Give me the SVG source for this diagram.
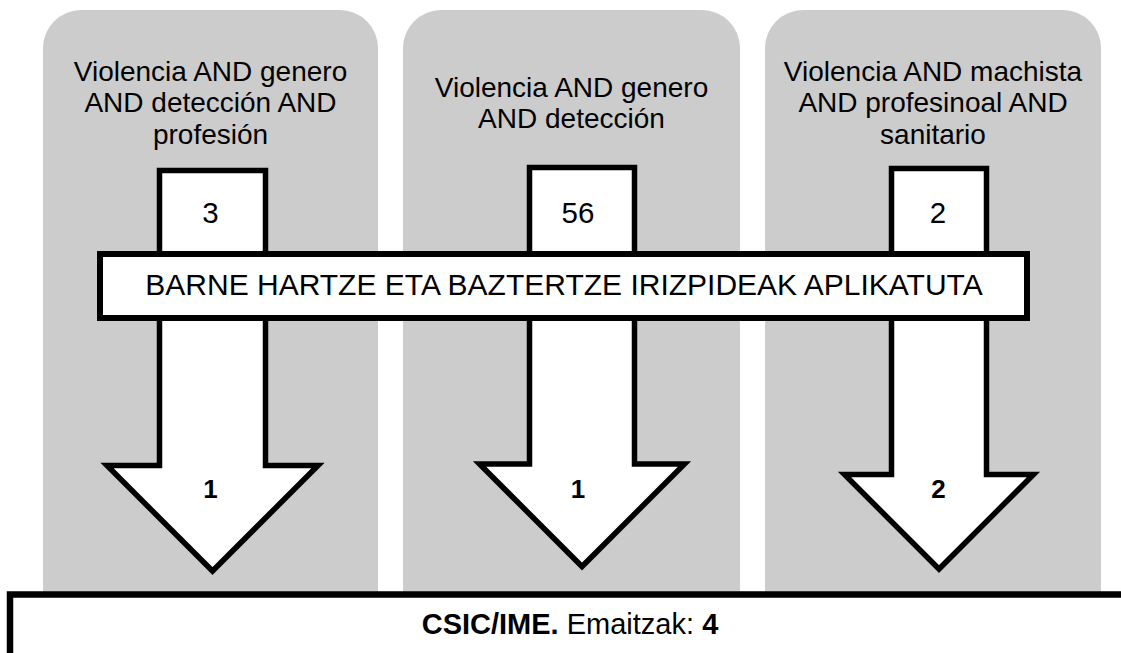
<svg xmlns="http://www.w3.org/2000/svg" width="1121" height="653" viewBox="0 0 1121 653">
<style>
  .col { fill: #cccccc; stroke: none; }
  .arrow { fill: #ffffff; stroke: #000000; stroke-width: 5.5; stroke-linejoin: miter; stroke-miterlimit: 10; }
  .box { fill: #ffffff; stroke: #000000; stroke-width: 6; }
  .t { font-family: "Liberation Sans", Arial, sans-serif; font-size: 29.5px; fill: #000000; text-anchor: middle; }
  .h { font-size: 28px; }
  .n { font-family: "Liberation Sans", Arial, sans-serif; font-size: 26px; font-weight: bold; fill: #000000; text-anchor: middle; }
  .b { font-weight: bold; }
</style>
<rect width="1121" height="653" fill="#ffffff"/>
<g id="col1">
  <path class="col" d="M43,600 V48 A38,38 0 0 1 81,10 H340 A38,38 0 0 1 378,48 V600 Z"/>
  <text class="t h" x="210.5" y="80.5">Violencia AND genero<tspan x="210.5" dy="31.5">AND detección AND</tspan><tspan x="210.5" dy="31.5">profesión</tspan></text>
</g>
<g id="col2">
  <path class="col" d="M403,600 V48 A38,38 0 0 1 441,10 H702 A38,38 0 0 1 740,48 V600 Z"/>
  <text class="t h" x="571.5" y="96.5">Violencia AND genero<tspan x="571.5" dy="31.5">AND detección</tspan></text>
</g>
<g id="col3">
  <path class="col" d="M765,600 V48 A38,38 0 0 1 803,10 H1063 A38,38 0 0 1 1101,48 V600 Z"/>
  <text class="t h" x="933" y="80.5">Violencia AND machista<tspan x="933" dy="31.5">AND profesinoal AND</tspan><tspan x="933" dy="31.5">sanitario</tspan></text>
</g>
<g id="connectors">
  <polygon class="arrow" points="159.5,170.5 265.5,170.5 265.5,465.5 318,465.5 212.5,571 107,465.5 159.5,465.5"/>
  <polygon class="arrow" points="529.5,167.5 634.5,167.5 634.5,464 684.5,464 582,566.5 479.5,464 529.5,464"/>
  <polygon class="arrow" points="891.5,168.5 986.5,168.5 986.5,474.5 1033.5,474.5 939,569 844.5,474.5 891.5,474.5"/>
  <text class="t" x="210.5" y="223">3</text>
  <text class="t" x="578" y="223">56</text>
  <text class="t" x="938" y="223">2</text>
  <text class="n" x="210.5" y="498">1</text>
  <text class="n" x="578" y="498">1</text>
  <text class="n" x="938.5" y="498">2</text>
</g>
<g id="criteria">
  <rect class="box" x="100" y="254" width="927" height="64"/>
  <text class="t" x="564" y="295" style="font-size:30px">BARNE HARTZE ETA BAZTERTZE IRIZPIDEAK APLIKATUTA</text>
</g>
<g id="result">
  <rect class="box" x="10" y="594.5" width="1200" height="120" style="stroke-width:6.5"/>
  <text class="t" x="570" y="634" style="font-size:29px"><tspan class="b">CSIC/IME.</tspan> Emaitzak: <tspan class="b">4</tspan></text>
</g>
</svg>
